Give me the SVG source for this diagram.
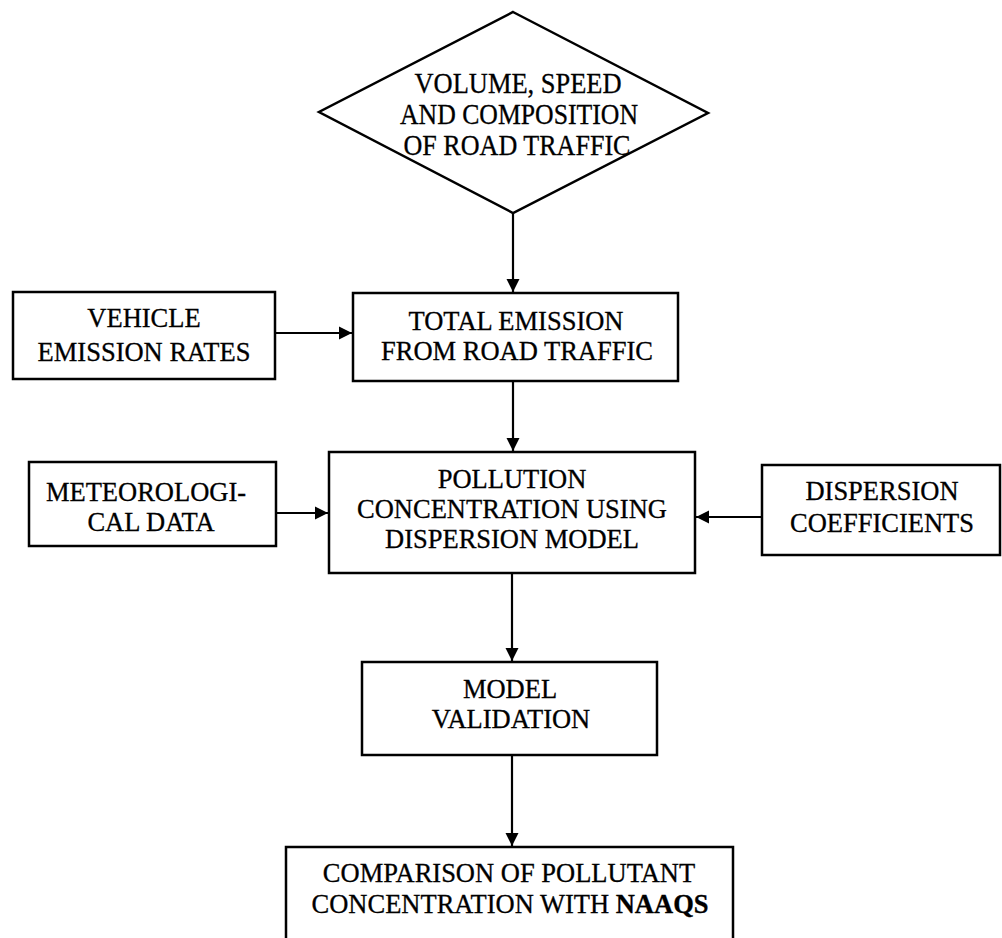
<svg xmlns="http://www.w3.org/2000/svg" width="1002" height="938" viewBox="0 0 1002 938">
<style>
.box{fill:#fff;stroke:#000;stroke-width:2.5}
.lbl{font-family:"Liberation Serif","Times New Roman",serif;font-size:26.5px;fill:#000;stroke:#000;stroke-width:0.3;text-anchor:middle}
.dia{font-family:"Liberation Serif","Times New Roman",serif;font-size:30px;fill:#000;stroke:#000;stroke-width:0.3;text-anchor:middle}
.edge{fill:none;stroke:#000;stroke-width:2.2;marker-end:url(#ah)}
</style>
<defs>
<marker id="ah" markerUnits="userSpaceOnUse" markerWidth="14" markerHeight="14" viewBox="0 0 14 14" refX="13" refY="7" orient="auto">
<path d="M0,0.5 L13,7 L0,13.5 Z" fill="#000"/>
</marker>
</defs>
<rect width="1002" height="938" fill="#fff"/>
<g id="connectors">
<line class="edge" x1="513" y1="213" x2="513" y2="292"/>
<line class="edge" x1="275" y1="333" x2="352" y2="333"/>
<line class="edge" x1="513" y1="381" x2="513" y2="451"/>
<line class="edge" x1="276" y1="513" x2="328" y2="513"/>
<line class="edge" x1="762" y1="517" x2="696" y2="517"/>
<line class="edge" x1="512" y1="573" x2="512" y2="661"/>
<line class="edge" x1="512" y1="755" x2="512" y2="846"/>
</g>
<g id="traffic">
<polygon class="box" points="513,12 708,113 513,213 319,112"/>
<text class="dia" x="518" y="93" textLength="207" lengthAdjust="spacingAndGlyphs">VOLUME, SPEED</text>
<text class="dia" x="519" y="124" textLength="238" lengthAdjust="spacingAndGlyphs">AND COMPOSITION</text>
<text class="dia" x="517" y="155" textLength="227" lengthAdjust="spacingAndGlyphs">OF ROAD TRAFFIC</text>
</g>
<g id="vehicle">
<rect class="box" x="13" y="292" width="262" height="87"/>
<text class="lbl" x="144" y="327">VEHICLE</text>
<text class="lbl" x="144" y="361">EMISSION RATES</text>
</g>
<g id="total">
<rect class="box" x="353" y="293" width="325" height="88"/>
<text class="lbl" x="516" y="330">TOTAL EMISSION</text>
<text class="lbl" x="517" y="360">FROM ROAD TRAFFIC</text>
</g>
<g id="meteo">
<rect class="box" x="29" y="462" width="247" height="84"/>
<text class="lbl" x="146" y="501">METEOROLOGI-</text>
<text class="lbl" x="151" y="531">CAL DATA</text>
</g>
<g id="pollution">
<rect class="box" x="329" y="452" width="366" height="121"/>
<text class="lbl" x="512" y="488">POLLUTION</text>
<text class="lbl" x="512" y="518">CONCENTRATION USING</text>
<text class="lbl" x="512" y="548">DISPERSION MODEL</text>
</g>
<g id="dispersion">
<rect class="box" x="762" y="465" width="238" height="90"/>
<text class="lbl" x="882" y="500">DISPERSION</text>
<text class="lbl" x="882" y="532">COEFFICIENTS</text>
</g>
<g id="validation">
<rect class="box" x="362" y="662" width="295" height="93"/>
<text class="lbl" x="510" y="698">MODEL</text>
<text class="lbl" x="511" y="728">VALIDATION</text>
</g>
<g id="comparison">
<rect class="box" x="286" y="847" width="447" height="110"/>
<text class="lbl" x="509" y="882">COMPARISON OF POLLUTANT</text>
<text class="lbl" x="510" y="913">CONCENTRATION WITH <tspan font-weight="bold">NAAQS</tspan></text>
</g>
</svg>
